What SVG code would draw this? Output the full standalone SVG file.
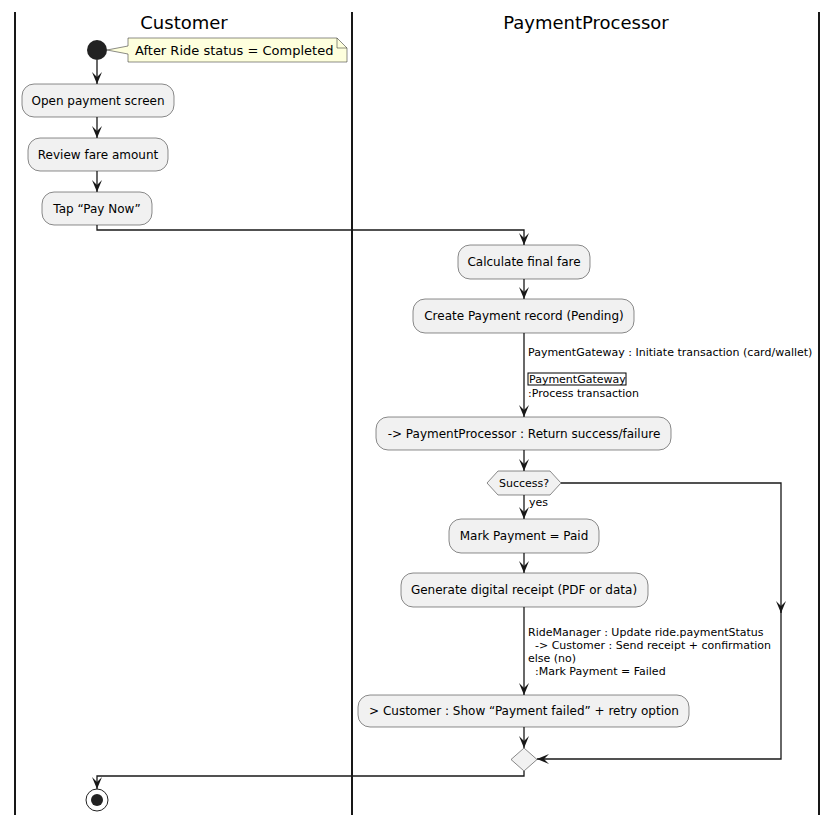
<svg xmlns="http://www.w3.org/2000/svg" width="837" height="824" viewBox="0 0 837 824">
<defs>
<style>
.lane{stroke:#181818;stroke-width:2;fill:none}
.hdr{font-family:"DejaVu Sans",sans-serif;font-size:18px;fill:#000;text-anchor:middle}
.act rect{fill:#F1F1F1;stroke:#181818;stroke-width:0.5}
.act text{font-family:"DejaVu Sans",sans-serif;font-size:12px;fill:#000;text-anchor:middle}
.arr{stroke:#181818;stroke-width:1.3;fill:none;marker-end:url(#ah)}
.lbl{font-family:"DejaVu Sans",sans-serif;font-size:11px;fill:#000;white-space:pre}
</style>
<marker id="ah" viewBox="0 0 12 10" refX="12" refY="5" markerWidth="12" markerHeight="10" markerUnits="userSpaceOnUse" orient="auto">
<path d="M0,0 L12,5 L0,10 L5,5 Z" fill="#181818"/>
</marker>
</defs>
<g id="lanes">
<line class="lane" x1="15" y1="12" x2="15" y2="815"/>
<line class="lane" x1="352" y1="12" x2="352" y2="815"/>
<line class="lane" x1="819" y1="12" x2="819" y2="815"/>
<text class="hdr" x="184" y="29">Customer</text>
<text class="hdr" x="586" y="29">PaymentProcessor</text>
</g>
<g id="connectors">
<line class="arr" x1="97" y1="60" x2="97" y2="84"/>
<line class="arr" x1="97" y1="117" x2="97" y2="138"/>
<line class="arr" x1="97" y1="171" x2="97" y2="192"/>
<polyline class="arr" points="97,225 97,230 524,230 524,245"/>
<line class="arr" x1="524" y1="279" x2="524" y2="299"/>
<line class="arr" x1="524" y1="333" x2="524" y2="417"/>
<line class="arr" x1="524" y1="450" x2="524" y2="471"/>
<line class="arr" x1="524" y1="495" x2="524" y2="519"/>
<line class="arr" x1="524" y1="553" x2="524" y2="573"/>
<line class="arr" x1="524" y1="607" x2="524" y2="695"/>
<line class="arr" x1="524" y1="727" x2="524" y2="748"/>
<polyline class="arr" points="561,483 781,483 781,613"/>
<polyline class="arr" points="781,610 781,759 537,759"/>
<polyline class="arr" points="524,771 524,776 97,776 97,789"/>
<text class="lbl" x="528" y="356">PaymentGateway : Initiate transaction (card/wallet)</text>
<rect x="528" y="373" width="98" height="12" fill="none" stroke="#000" stroke-width="1"/>
<text class="lbl" x="529" y="383">PaymentGateway</text>
<text class="lbl" x="528" y="397">:Process transaction</text>
<text class="lbl" x="529" y="506">yes</text>
<text class="lbl" x="528" y="636">RideManager : Update ride.paymentStatus</text>
<text class="lbl" x="528" y="649" xml:space="preserve">  -&gt; Customer : Send receipt + confirmation</text>
<text class="lbl" x="528" y="662">else (no)</text>
<text class="lbl" x="528" y="675" xml:space="preserve">  :Mark Payment = Failed</text>
</g>
<g id="start"><circle cx="97" cy="50" r="10" fill="#222"/></g>
<g id="note">
<path d="M128,38 L337,38 L347,48 L347,62 L128,62 L128,54 L107,50 L128,46 Z" fill="#FEFFDD" stroke="#181818" stroke-width="0.5"/>
<path d="M337,38 L337,48 L347,48" fill="none" stroke="#181818" stroke-width="0.5"/>
<text class="lbl" x="135" y="55" style="font-size:13px">After Ride status = Completed</text>
</g>
<g id="open" class="act"><rect x="22" y="84" width="152" height="33" rx="12"/><text x="98" y="105">Open payment screen</text></g>
<g id="review" class="act"><rect x="28" y="138" width="140" height="33" rx="12"/><text x="98" y="159">Review fare amount</text></g>
<g id="tap" class="act"><rect x="42" y="192" width="110" height="33" rx="12"/><text x="97" y="213">Tap “Pay Now”</text></g>
<g id="calc" class="act"><rect x="458" y="245" width="132" height="34" rx="12"/><text x="524" y="266">Calculate final fare</text></g>
<g id="create" class="act"><rect x="413" y="299" width="221" height="34" rx="12"/><text x="524" y="320">Create Payment record (Pending)</text></g>
<g id="ret" class="act"><rect x="376" y="417" width="295" height="33" rx="12"/><text x="524" y="438">-&gt; PaymentProcessor : Return success/failure</text></g>
<g id="success" class="act"><polygon points="487,483 498,471 550,471 561,483 550,495 498,495" fill="#F1F1F1" stroke="#181818" stroke-width="0.5"/><text x="524" y="487" style="font-size:11px">Success?</text></g>
<g id="paid" class="act"><rect x="449" y="519" width="150" height="34" rx="12"/><text x="524" y="540">Mark Payment = Paid</text></g>
<g id="receipt" class="act"><rect x="401" y="573" width="247" height="34" rx="12"/><text x="524" y="594">Generate digital receipt (PDF or data)</text></g>
<g id="failed" class="act"><rect x="358" y="695" width="331" height="32" rx="12"/><text x="524" y="715">&gt; Customer : Show “Payment failed” + retry option</text></g>
<g id="merge"><polygon points="524,748 537,759.5 524,771 511,759.5" fill="#F1F1F1" stroke="#181818" stroke-width="0.5"/></g>
<g id="end"><circle cx="97" cy="800" r="11" fill="none" stroke="#222" stroke-width="1"/><circle cx="97" cy="800" r="6" fill="#222"/></g>
</svg>
